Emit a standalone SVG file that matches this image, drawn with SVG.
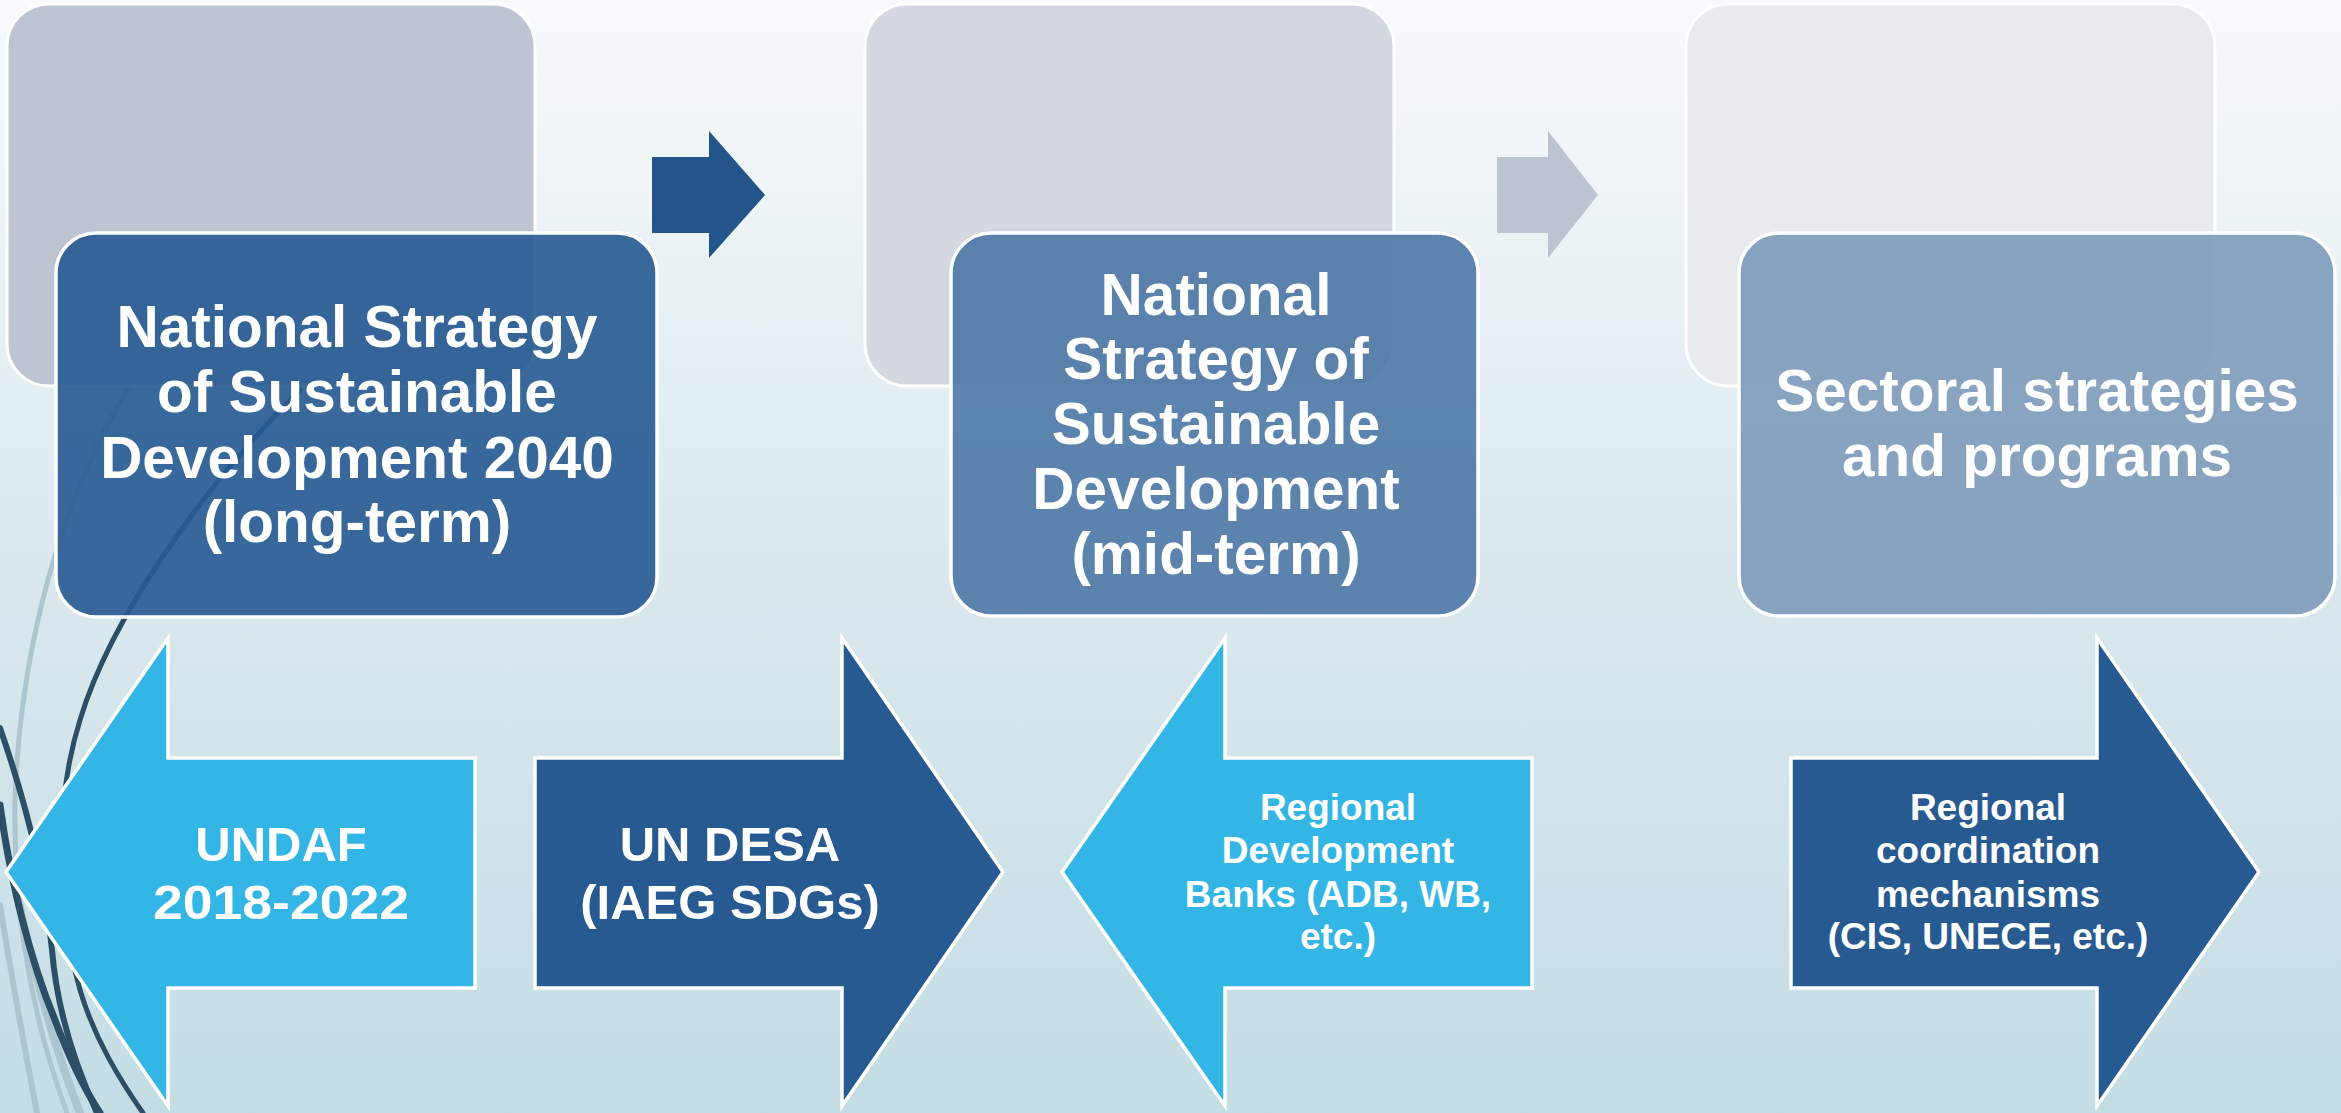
<svg xmlns="http://www.w3.org/2000/svg" width="2341" height="1113" viewBox="0 0 2341 1113">
<defs>
<linearGradient id="bg" x1="0" y1="0" x2="0" y2="1">
<stop offset="0" stop-color="#f8fafc"/>
<stop offset="0.5" stop-color="#dbe9ee"/>
<stop offset="1" stop-color="#c4dde4"/>
</linearGradient>
<style>
.back{stroke:#ffffff;stroke-width:3}
.front{stroke:#ffffff;stroke-width:3.5;fill-opacity:0.9}
.big{stroke:#ffffff;stroke-width:3.5;stroke-linejoin:miter}
.light{fill:#33b5e5}
.dark{fill:#265a91}
.t{font-family:"Liberation Sans",Arial,sans-serif;font-weight:bold;fill:#ffffff;text-anchor:middle}
.tl{font-size:58.5px}
.tm{font-size:49px}
.ts{font-size:37px}
.dl{fill:none;stroke:#2b4f66;stroke-linecap:round}
.ll{fill:none;stroke:#adc5ce;stroke-linecap:round}
</style>
</defs>
<rect x="0" y="0" width="2341" height="1113" fill="url(#bg)"/>

<g id="decoration">
<path class="ll" stroke-width="5" d="M130,385 C60,500 20,650 15,800 C12,930 40,1040 67,1113"/>
<path class="ll" stroke-width="6" d="M0,905 C12,980 25,1050 37,1113"/>
<path class="ll" stroke-width="8" d="M10,860 C30,960 55,1050 80,1113"/>
<path class="dl" stroke-width="7" d="M0,805 C10,880 30,960 55,1020 C70,1060 85,1090 100,1113"/>
<path class="dl" stroke-width="6" d="M0,728 C25,800 45,880 52,950 C57,1010 75,1065 97,1113"/>
<path class="dl" stroke-width="5" d="M300,390 C200,490 110,620 80,720 C55,800 55,900 80,990 C95,1040 120,1080 143,1113"/>
</g>

<g id="back-boxes">
<rect id="back1" class="back" x="7" y="4" width="528" height="382" rx="42" fill="#bdc4d2"/>
<rect id="back2" class="back" x="865" y="4" width="529" height="382" rx="42" fill="#d3d8e1"/>
<rect id="back3" class="back" x="1686" y="4" width="529" height="382" rx="42" fill="#e8eaee"/>
</g>

<g id="connectors">
<path id="conn1" fill="#23548a" d="M652,157 L709,157 L709,131 L765,195 L709,258 L709,233 L652,233 Z"/>
<path id="conn2" fill="#bdc4d1" d="M1497,157 L1548,157 L1548,131 L1598,195 L1548,258 L1548,233 L1497,233 Z"/>
</g>

<g id="node-long-term">
<rect class="front" x="56" y="233" width="601" height="384" rx="40" fill="#265a91"/>
<text class="t tl" x="357" y="347">National Strategy</text>
<text class="t tl" x="357" y="412">of Sustainable</text>
<text class="t tl" x="357" y="478">Development 2040</text>
<text class="t tl" x="357" y="542">(long-term)</text>
</g>

<g id="node-mid-term">
<rect class="front" x="951" y="233" width="527" height="383" rx="40" fill="#4d78a6"/>
<text class="t tl" x="1216" y="315">National</text>
<text class="t tl" x="1216" y="379">Strategy of</text>
<text class="t tl" x="1216" y="444">Sustainable</text>
<text class="t tl" x="1216" y="509">Development</text>
<text class="t tl" x="1216" y="574">(mid-term)</text>
</g>

<g id="node-sectoral">
<rect class="front" x="1739" y="233" width="596" height="383" rx="40" fill="#7d9bba"/>
<text class="t tl" x="2037" y="411">Sectoral strategies</text>
<text class="t tl" x="2037" y="476">and programs</text>
</g>

<g id="node-undaf">
<path class="big light" d="M6,872 L168,638 L168,758 L475,758 L475,988 L168,988 L168,1106 Z"/>
<text class="t tm" x="281" y="861">UNDAF</text>
<text class="t tm" x="281" y="919" textLength="256" lengthAdjust="spacingAndGlyphs">2018-2022</text>
</g>

<g id="node-undesa">
<path class="big dark" d="M535,758 L842,758 L842,638 L1003,872 L842,1106 L842,988 L535,988 Z"/>
<text class="t tm" x="730" y="861">UN DESA</text>
<text class="t tm" x="730" y="919">(IAEG SDGs)</text>
</g>

<g id="node-banks">
<path class="big light" d="M1062,872 L1225,638 L1225,758 L1532,758 L1532,988 L1225,988 L1225,1106 Z"/>
<text class="t ts" x="1338" y="820">Regional</text>
<text class="t ts" x="1338" y="863">Development</text>
<text class="t ts" x="1338" y="907">Banks (ADB, WB,</text>
<text class="t ts" x="1338" y="949">etc.)</text>
</g>

<g id="node-regional">
<path class="big dark" d="M1791,758 L2097,758 L2097,638 L2259,872 L2097,1106 L2097,988 L1791,988 Z"/>
<text class="t ts" x="1988" y="820">Regional</text>
<text class="t ts" x="1988" y="863">coordination</text>
<text class="t ts" x="1988" y="907">mechanisms</text>
<text class="t ts" x="1988" y="949">(CIS, UNECE, etc.)</text>
</g>
</svg>
